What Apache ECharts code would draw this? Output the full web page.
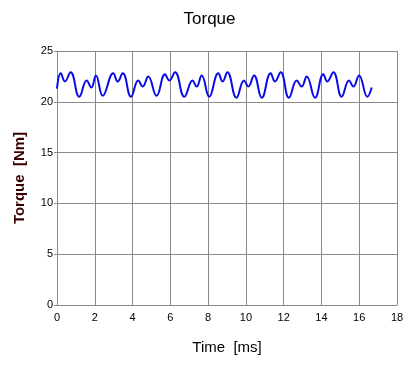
<!DOCTYPE html>
<html>
<head>
<meta charset="utf-8">
<script src="https://cdn.jsdelivr.net/npm/echarts@6/dist/echarts.min.js"></script>
<style>html,body{margin:0;padding:0;background:#fff;}#c{width:419px;height:368px;}</style>
</head>
<body>
<div id="c"></div>
<script>
const titleText = "Torque";
const xName = "Time  [ms]";
const yName = "Torque  [Nm]";
const timeMs = [0, 0.2, 0.42, 0.72, 1.18, 1.57, 1.82, 2.06, 2.42, 2.98, 3.21, 3.48, 3.92, 4.3, 4.54, 4.83, 5.27, 5.72, 5.95, 6.25, 6.74, 7.18, 7.39, 7.66, 8.06, 8.54, 8.77, 9.02, 9.5, 9.9, 10.13, 10.43, 10.84, 11.31, 11.54, 11.84, 12.28, 12.69, 12.95, 13.22, 13.66, 14.1, 14.31, 14.63, 15.07, 15.46, 15.69, 15.99, 16.43, 16.66];
const torqueNm = [21.3, 22.8, 22.0, 22.9, 20.5, 22.1, 21.4, 22.6, 20.6, 22.8, 22.0, 22.8, 20.5, 22.1, 21.5, 22.5, 20.6, 22.7, 22.1, 22.9, 20.5, 22.1, 21.5, 22.6, 20.5, 22.8, 22.0, 22.9, 20.4, 22.1, 21.5, 22.6, 20.4, 22.8, 22.0, 22.9, 20.4, 22.1, 21.5, 22.5, 20.4, 22.7, 22.0, 22.9, 20.5, 22.1, 21.5, 22.6, 20.5, 21.4];
const xTicks = [0, 2, 4, 6, 8, 10, 12, 14, 16, 18];
const yTicks = [0, 5, 10, 15, 20, 25];

const chart = echarts.init(document.getElementById('c'), null, {renderer: 'canvas'});
const gridColor = '#8a8a8a';
chart.setOption({
  backgroundColor: '#ffffff',
  animation: false,
  title: {
    text: titleText, left: 'center', top: 6,
    textStyle: {fontFamily: 'Liberation Sans', fontSize: 17, fontWeight: 'normal', color: '#000'}
  },
  grid: {left: 57, right: 22, top: 51, bottom: 63, containLabel: false},
  xAxis: {
    type: 'value', min: xTicks[0], max: xTicks[xTicks.length - 1], interval: 2,
    name: xName, nameLocation: 'middle', nameGap: 35,
    nameTextStyle: {fontFamily: 'Liberation Sans', fontSize: 15, color: '#000'},
    axisLine: {show: true, lineStyle: {color: gridColor, width: 1}},
    axisTick: {show: false},
    axisLabel: {fontFamily: 'Liberation Sans', fontSize: 11, color: '#000', margin: 7},
    splitLine: {show: true, lineStyle: {color: gridColor, width: 1}}
  },
  yAxis: {
    type: 'value', min: yTicks[0], max: yTicks[yTicks.length - 1], interval: 5,
    name: yName, nameLocation: 'middle', nameGap: 30,
    nameTextStyle: {fontFamily: 'Liberation Sans', fontSize: 15, fontWeight: 'bold', color: '#3a0000'},
    axisLine: {show: true, lineStyle: {color: gridColor, width: 1}},
    axisTick: {show: true, length: 3, lineStyle: {color: gridColor}},
    axisLabel: {fontFamily: 'Liberation Sans', fontSize: 11, color: '#000', margin: 4},
    splitLine: {show: true, lineStyle: {color: gridColor, width: 1}}
  },
  series: [{
    type: 'line',
    data: timeMs.map((t, i) => [t, torqueNm[i]]),
    smooth: 0.45,
    showSymbol: false,
    lineStyle: {color: '#0a0ae6', width: 2}
  }]
});
</script>
</body>
</html>
